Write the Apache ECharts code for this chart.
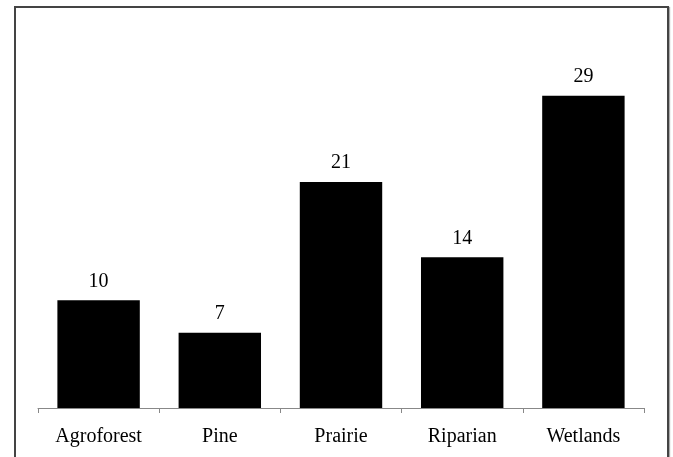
<!DOCTYPE html>
<html>
<head>
<meta charset="utf-8">
<script src="https://cdn.jsdelivr.net/npm/echarts@6/dist/echarts.min.js"></script>
<style>
html,body{margin:0;padding:0;background:#fff;overflow:hidden;}
#frame{position:absolute;left:14px;top:6px;width:655px;height:470px;border:2px solid #444;box-shadow:1px 1px 1px #aaa;box-sizing:border-box;}
#chart{position:absolute;left:0;top:0;width:673px;height:457px;}
</style>
</head>
<body>
<div id="frame"></div>
<div id="chart"></div>
<script>
var categories = ["Agroforest", "Pine", "Prairie", "Riparian", "Wetlands"];
var values = [10, 7, 21, 14, 29];

var chart = echarts.init(document.getElementById('chart'), null, {renderer: 'canvas'});
chart.setOption({
  animation: false,
  grid: {left: 38, right: 29, top: 85, bottom: 49},
  xAxis: {
    type: 'category',
    data: categories,
    axisLine: {lineStyle: {color: '#888', width: 1}},
    axisTick: {show: true, length: 5, lineStyle: {color: '#888'}},
    axisLabel: {color: '#000', fontFamily: 'Liberation Serif', fontSize: 20, margin: 19}
  },
  yAxis: {
    type: 'value', min: 0, max: 30, show: false,
    splitLine: {show: false}
  },
  series: [{
    type: 'bar',
    data: values,
    barCategoryGap: '32%',
    itemStyle: {color: '#000'},
    label: {show: true, position: 'top', distance: 9, color: '#000', fontFamily: 'Liberation Serif', fontSize: 20}
  }]
});
</script>
</body>
</html>
